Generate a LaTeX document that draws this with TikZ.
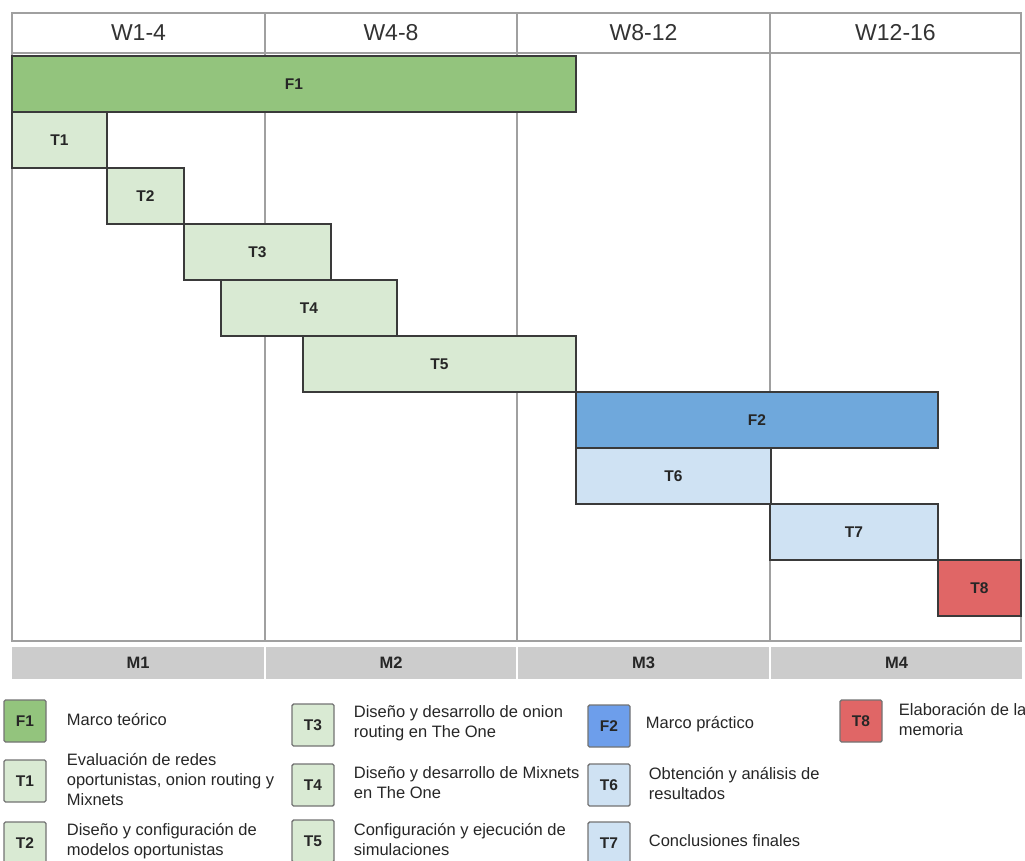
\documentclass[tikz,border=0pt]{standalone}
\usepackage{fontspec}
\setmainfont{Liberation Sans}
\usepackage{tikz}
\usetikzlibrary{positioning}

\definecolor{faseverde}{HTML}{93C47D}
\definecolor{tareaverde}{HTML}{D9EAD3}
\definecolor{faseazul}{HTML}{6FA8DC}
\definecolor{leyendaazul}{HTML}{6D9EEB}
\definecolor{tareaazul}{HTML}{CFE2F3}
\definecolor{tarearoja}{HTML}{E06666}
\definecolor{rejilla}{HTML}{A0A0A0}
\definecolor{mesgris}{HTML}{CCCCCC}
\definecolor{borde}{HTML}{3A3A3A}

\tikzset{
  semana/.style={draw=rejilla, line width=2pt, fill=white, minimum height=40pt,
    inner sep=0pt, font=\fontsize{23}{26}\selectfont, text=black!80},
  barra/.style={draw=borde, line width=1.2pt, minimum height=56pt, inner sep=0pt,
    font=\bfseries\fontsize{15.5}{18}\selectfont, text=black!85},
  mes/.style={fill=mesgris, minimum height=32pt, inner sep=0pt,
    font=\bfseries\fontsize{16.5}{18}\selectfont, text=black!85},
  caja/.style={draw=black!55, line width=1.4pt, rounded corners=1.5pt, minimum size=42pt,
    inner sep=0pt, font=\bfseries\fontsize{15.5}{18}\selectfont, text=black!85},
  leyenda/.style={anchor=west, align=left, inner sep=0pt,
    font=\fontsize{16.5}{20}\selectfont, text=black!85},
}

\begin{document}
\begin{tikzpicture}[x=1pt, y=-1pt]
    \useasboundingbox (0,0) rectangle (1025,861);
    \clip (0,0) rectangle (1025,861);

    % =================================================================
    % CABECERA: SEMANAS
    % =================================================================
    \foreach \nombre/\xa/\xb/\texto in {w1/12/265/W1-4, w2/265/517/W4-8, w3/517/770/W8-12, w4/770/1021/W12-16}
        \node[semana, minimum width={(\xb-\xa)*1pt}] (\nombre) at ({(\xa+\xb)/2},33) {\texto};

    % Rejilla del cuerpo del cronograma
    \draw[rejilla, line width=2pt] (12,53) rectangle (1021,641);
    \foreach \x in {265,517,770}
        \draw[rejilla, line width=2pt] (\x,53) -- (\x,641);

    % =================================================================
    % BARRAS DE FASES Y TAREAS (una fila cada 56pt)
    % =================================================================
    \foreach \nombre/\xa/\xb/\fila/\relleno in {F1/12/576/0/faseverde, T1/12/107/1/tareaverde,
        T2/107/184/2/tareaverde, T3/184/331/3/tareaverde, T4/221/397/4/tareaverde,
        T5/303/576/5/tareaverde, F2/576/938/6/faseazul, T6/576/771/7/tareaazul,
        T7/770/938/8/tareaazul, T8/938/1021/9/tarearoja}
        \node[barra, fill=\relleno, minimum width={(\xb-\xa)*1pt}] (\nombre) at ({(\xa+\xb)/2},{84+56*\fila}) {\nombre};

    % Barra inferior de meses
    \foreach \nombre/\xa/\xb/\texto in {m1/12/264/M1, m2/266/516/M2, m3/518/769/M3, m4/771/1022/M4}
        \node[mes, minimum width={(\xb-\xa)*1pt}] (\nombre) at ({(\xa+\xb)/2},663) {\texto};

    % =================================================================
    % LEYENDA
    % =================================================================
    \foreach \nombre/\x/\y/\relleno/\sep/\texto in {
        F1/25/721/faseverde/20/{Marco teórico},
        T1/25/781/tareaverde/20/{Evaluación de redes\\oportunistas, onion routing y\\Mixnets},
        T2/25/843/tareaverde/20/{Diseño y configuración de\\modelos oportunistas},
        T3/313/725/tareaverde/19/{Diseño y desarrollo de onion\\routing en The One},
        T4/313/785/tareaverde/19/{Diseño y desarrollo de Mixnets\\en The One},
        T5/313/841/tareaverde/19/{Configuración y ejecución de\\simulaciones},
        F2/609/726/leyendaazul/15/{Marco práctico},
        T6/609/785/tareaazul/18/{Obtención y análisis de\\resultados},
        T7/609/843/tareaazul/18/{Conclusiones finales},
        T8/861/721/tarearoja/16/{Elaboración de la\\memoria}}
    {
        \node[caja, fill=\relleno] (ley\nombre) at (\x,\y) {\nombre};
        \node[leyenda, right=\sep pt of ley\nombre, yshift=2pt] (txt\nombre) {\texto};
    }

\end{tikzpicture}
\end{document}
